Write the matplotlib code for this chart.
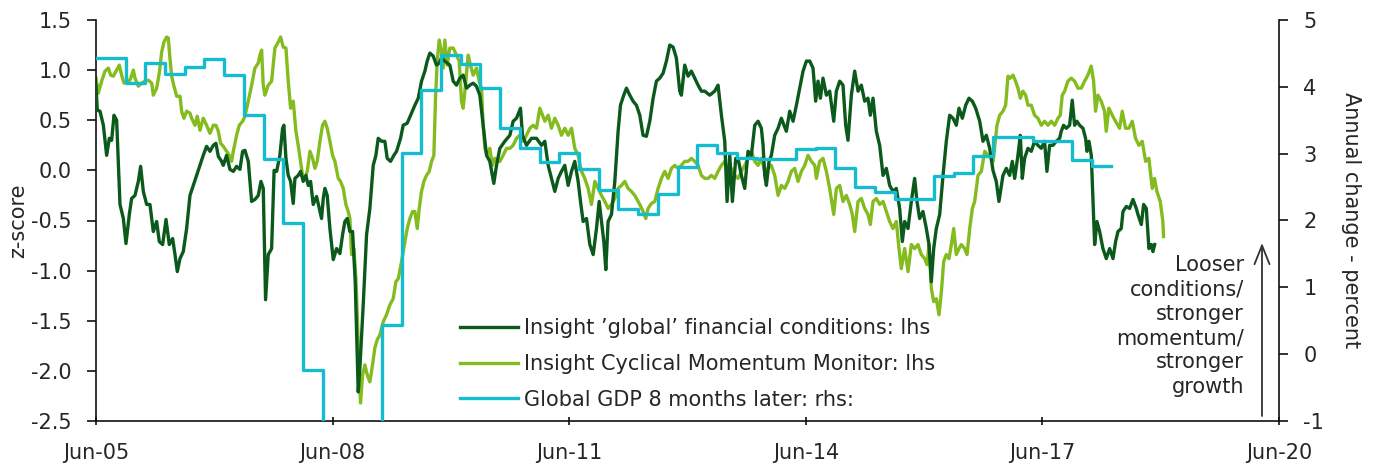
import matplotlib
matplotlib.use("Agg")
import matplotlib.pyplot as plt
from matplotlib.lines import Line2D

plt.rcParams['font.family'] = ['DejaVu Sans']
plt.rcParams['axes.unicode_minus'] = False

# ---- data (x = months since Jun-2005) ----
fci_month = [0, 0.2, 0.61, 1.12, 1.62, 2.03, 2.38, 2.74, 3.14, 3.65, 4.16, 4.56, 5.07, 5.42, 5.93, 6.44, 6.79, 7.2, 7.71, 8.21,
             8.72, 9.23, 9.63, 10.14, 10.65, 11.15, 11.66, 12.02, 12.37, 12.78, 13.28, 13.79, 14.3, 14.8, 15.31, 15.82, 16.32,
             16.83, 17.34, 17.85, 18.25, 18.61, 19.11, 19.37, 19.87, 20.38, 20.89, 21.39, 21.9, 22.31, 22.66, 23.17, 23.68,
             24.18, 24.69, 25.1, 25.45, 25.8, 26.21, 26.72, 27.1, 27.48, 27.98, 28.39, 28.59, 28.9, 29.25, 29.61, 30.01, 30.27,
             30.77, 31.13, 31.53, 31.94, 32.29, 32.65, 33.05, 33.56, 33.97, 34.32, 34.58, 34.83, 35.18, 35.59, 36.1, 36.6,
             37.11, 37.52, 37.87, 38.23, 38.63, 39.04, 39.44, 39.9, 40.15, 40.66, 41.17, 41.67, 42.18, 42.59, 42.94, 43.45,
             43.95, 44.31, 44.82, 45.32, 45.73, 46.34, 46.74, 47.35, 48.01, 48.52, 49.03, 49.53, 50.04, 50.39, 50.8, 51.31,
             51.81, 52.22, 52.57, 53.08, 53.84, 54.35, 54.85, 55.36, 55.87, 56.38, 56.88, 57.39, 57.89, 58.4, 58.91, 59.42,
             59.92, 60.53, 60.94, 61.45, 62.2, 62.97, 63.47, 63.98, 64.59, 64.89, 65.5, 66.26, 67.02, 67.78, 68.29, 68.8,
             69.3, 69.81, 70.32, 70.82, 71.33, 71.84, 72.35, 72.85, 73.36, 73.72, 74.12, 74.63, 75.14, 75.65, 76.15, 76.56,
             76.91, 77.27, 77.57, 77.92, 78.43, 78.94, 79.44, 79.8, 80.3, 80.71, 81.22, 81.72, 82.23, 82.74, 83.24, 83.75,
             84.26, 84.77, 85.27, 85.78, 86.29, 86.79, 87.3, 87.81, 88.31, 88.82, 89.07, 89.58, 90.09, 90.59, 91.1, 91.61,
             92.11, 92.62, 93.38, 94.14, 94.65, 95.16, 95.67, 96.02, 96.43, 96.83, 97.34, 97.69, 98.2, 98.71, 99.21, 99.72,
             100.23, 100.74, 101.24, 101.5, 101.75, 102.0, 102.41, 102.76, 103.27, 103.78, 104.28, 105.04, 105.55, 106.06,
             106.57, 107.07, 107.58, 108.09, 108.6, 109.1, 109.5, 109.86, 110.22, 110.62, 111.13, 111.63, 112.25, 112.65,
             113.16, 113.66, 114.07, 114.42, 114.93, 115.44, 115.95, 116.45, 116.96, 117.46, 117.82, 118.23, 118.73, 119.24,
             119.75, 120.25, 120.76, 121.27, 121.77, 122.28, 122.69, 123.04, 123.55, 124.06, 124.56, 124.92, 125.32, 125.83,
             126.34, 126.75, 127.1, 127.46, 127.86, 128.37, 128.88, 129.38, 129.89, 130.4, 130.9, 131.31, 131.82, 132.33,
             132.83, 133.34, 133.85, 134.46, 134.96, 135.47, 135.98, 136.48, 136.98, 137.39, 138.0, 138.51, 139.01, 139.42,
             139.78, 140.28, 140.64, 140.94, 141.29, 141.8, 142.31, 142.81, 143.32, 143.83, 144.33, 144.69, 145.1, 145.6,
             146.11, 146.62, 146.87, 147.22, 147.63, 148.14, 148.54, 148.9, 149.25, 149.66, 150.17, 150.57, 150.78, 151.08,
             151.44, 151.69, 151.95, 152.3, 152.71, 153.21, 153.72, 154.23, 154.74, 155.14, 155.5, 156.0, 156.26, 156.77,
             157.27, 157.78, 158.29, 158.54, 159.05, 159.4, 159.81, 160.21, 160.57, 160.82, 161.08]
fci_value = [0.85, 0.60, 0.59, 0.45, 0.15, 0.32, 0.30, 0.55, 0.50, -0.34, -0.48, -0.73, -0.44, -0.28, -0.25, -0.11, 0.04, -0.21,
             -0.34, -0.34, -0.61, -0.51, -0.71, -0.74, -0.49, -0.74, -0.68, -0.84, -1.01, -0.88, -0.81, -0.58, -0.25, -0.15,
             -0.05, 0.05, 0.15, 0.24, 0.19, 0.25, 0.27, 0.14, 0.09, 0.05, 0.15, 0.01, -0.01, 0.04, 0.01, 0.19, 0.20, 0.09,
             -0.31, -0.29, -0.25, -0.11, -0.18, -1.29, -0.84, -0.78, 0.0, -0.01, 0.15, 0.42, 0.45, 0.12, -0.05, -0.11, -0.33,
             -0.08, -0.05, -0.01, -0.11, -0.05, -0.15, -0.11, -0.34, -0.26, -0.38, -0.48, -0.28, -0.18, -0.25, -0.58, -0.89,
             -0.78, -0.83, -0.64, -0.51, -0.48, -0.61, -0.61, -1.11, -2.21, -1.97, -1.34, -0.64, -0.38, 0.05, 0.15, 0.32,
             0.29, 0.29, 0.12, 0.09, 0.15, 0.19, 0.32, 0.45, 0.47, 0.57, 0.65, 0.72, 0.89, 0.99, 1.09, 1.17, 1.14, 1.05, 1.07,
             1.12, 1.09, 1.05, 0.89, 0.85, 0.92, 0.95, 0.82, 0.85, 0.87, 0.84, 0.75, 0.45, 0.15, 0.09, -0.13, 0.05, 0.22, 0.29,
             0.35, 0.49, 0.52, 0.62, 0.35, 0.25, 0.32, 0.32, 0.25, 0.29, 0.05, -0.08, -0.21, -0.08, -0.01, 0.05, -0.15, -0.01,
             0.09, -0.11, -0.31, -0.51, -0.48, -0.74, -0.84, -0.58, -0.31, -0.51, -0.71, -0.99, -0.51, -0.44, -0.11, 0.39,
             0.65, 0.75, 0.82, 0.75, 0.69, 0.65, 0.55, 0.35, 0.34, 0.49, 0.72, 0.89, 0.92, 0.97, 1.09, 1.25, 1.23, 1.12, 0.79,
             0.75, 1.05, 0.94, 0.99, 0.92, 0.85, 0.79, 0.79, 0.75, 0.79, 0.85, 0.55, 0.29, -0.31, 0.15, -0.31, 0.12, 0.12,
             -0.05, -0.18, 0.19, 0.15, 0.45, 0.49, 0.42, 0.25, -0.05, -0.15, 0.09, 0.15, 0.35, 0.42, 0.52, 0.39, 0.59, 0.49,
             0.65, 0.82, 0.99, 1.09, 1.09, 1.02, 0.69, 0.89, 0.72, 0.92, 0.75, 0.79, 0.49, 0.79, 0.89, 0.85, 0.45, 0.30, 0.75,
             0.99, 0.79, 0.85, 0.69, 0.72, 0.55, 0.72, 0.39, 0.25, -0.05, 0.02, -0.15, -0.21, -0.18, -0.38, -0.71, -0.51,
             -0.58, -0.31, -0.08, -0.31, -0.48, -0.41, -0.58, -0.74, -1.11, -0.78, -0.58, -0.44, -0.05, 0.29, 0.55, 0.52,
             0.45, 0.62, 0.52, 0.65, 0.72, 0.69, 0.62, 0.49, 0.29, 0.35, 0.22, 0.0, -0.11, -0.31, -0.05, 0.02, -0.05, 0.09,
             -0.08, 0.15, 0.35, -0.08, 0.12, 0.22, 0.19, 0.29, 0.25, 0.22, 0.29, -0.01, 0.25, 0.25, 0.29, 0.32, 0.39, 0.45,
             0.42, 0.45, 0.70, 0.45, 0.49, 0.45, 0.42, 0.32, 0.19, 0.29, 0.15, -0.28, -0.74, -0.51, -0.61, -0.78, -0.88,
             -0.78, -0.88, -0.71, -0.61, -0.58, -0.41, -0.36, -0.38, -0.29, -0.38, -0.44, -0.54, -0.34, -0.38, -0.78, -0.74,
             -0.81, -0.74]

cmm_month = [0, 0.35, 0.86, 1.37, 1.88, 2.23, 2.64, 3.14, 3.55, 3.9, 4.26, 4.77, 5.17, 5.68, 5.93, 6.44, 6.95, 7.45, 7.96, 8.47,
             8.72, 9.23, 9.63, 9.99, 10.34, 10.75, 11.0, 11.25, 11.51, 11.86, 12.27, 12.78, 13.03, 13.38, 13.79, 14.3, 14.55,
             15.06, 15.41, 15.82, 16.32, 16.83, 17.34, 17.85, 18.25, 18.61, 18.96, 19.37, 19.87, 20.28, 20.63, 20.89, 21.14,
             21.39, 21.8, 22.31, 22.66, 23.17, 23.68, 24.18, 24.69, 24.94, 25.2, 25.45, 25.7, 26.21, 26.72, 27.22, 27.73,
             28.09, 28.49, 28.9, 29.25, 29.61, 30.01, 30.42, 30.77, 31.13, 31.43, 31.79, 32.14, 32.55, 32.95, 33.31, 33.66,
             34.07, 34.47, 34.83, 35.18, 35.59, 35.99, 36.35, 36.86, 37.21, 37.62, 38.02, 38.38, 38.63, 38.89, 39.24, 39.55,
             39.75, 40.05, 40.25, 40.56, 40.91, 41.27, 41.67, 42.08, 42.43, 42.79, 43.2, 43.7, 44.21, 44.72, 45.22, 45.63,
             45.99, 46.49, 47.0, 47.36, 47.76, 48.17, 48.52, 48.88, 49.18, 49.53, 49.89, 50.29, 50.7, 51.06, 51.41, 51.66,
             51.92, 52.22, 52.57, 52.83, 53.08, 53.43, 53.84, 54.35, 54.85, 55.26, 55.61, 55.87, 56.27, 56.63, 56.98, 57.39,
             57.89, 58.3, 58.66, 58.91, 59.17, 59.52, 59.92, 60.33, 60.68, 61.04, 61.45, 61.95, 62.46, 62.97, 63.47, 63.98,
             64.49, 65.0, 65.5, 66.01, 66.52, 67.02, 67.53, 67.93, 68.29, 68.8, 69.3, 69.81, 70.32, 70.82, 71.33, 71.84,
             72.35, 72.85, 73.36, 73.87, 74.37, 74.88, 75.39, 75.9, 76.4, 76.91, 77.42, 77.92, 78.43, 78.94, 79.44, 79.95,
             80.46, 80.96, 81.47, 81.98, 82.74, 83.24, 83.65, 84.0, 84.51, 85.02, 85.53, 86.03, 86.54, 87.05, 87.55, 88.06,
             88.57, 89.07, 89.58, 90.09, 90.59, 91.1, 91.61, 92.11, 92.62, 93.13, 93.63, 94.14, 94.65, 95.16, 95.67, 96.17,
             96.68, 97.19, 97.69, 98.2, 98.71, 99.21, 99.72, 100.23, 100.74, 101.24, 101.75, 102.26, 102.76, 103.27, 103.78,
             104.28, 104.79, 105.3, 105.8, 106.31, 106.82, 107.33, 107.83, 108.34, 108.85, 109.36, 109.61, 110.11, 110.62,
             111.13, 111.63, 112.25, 112.65, 113.16, 113.66, 114.17, 114.68, 115.08, 115.44, 115.95, 116.45, 116.96, 117.46,
             117.82, 118.23, 118.73, 119.24, 119.75, 120.25, 120.76, 121.27, 121.77, 122.18, 122.53, 123.04, 123.55, 124.06,
             124.56, 125.07, 125.58, 126.08, 126.44, 126.75, 127.1, 127.46, 127.86, 128.27, 128.63, 128.98, 129.38, 129.79,
             130.15, 130.5, 130.9, 131.31, 131.67, 132.17, 132.53, 132.94, 133.34, 133.7, 134.2, 134.71, 135.22, 135.72,
             136.23, 136.5, 137.09, 137.5, 138.0, 138.41, 138.76, 139.11, 139.52, 139.92, 140.28, 140.64, 141.04, 141.45,
             141.8, 142.31, 142.81, 143.32, 143.83, 144.33, 144.84, 145.35, 145.86, 146.36, 146.72, 147.02, 147.38, 147.88,
             148.39, 148.9, 149.4, 149.91, 150.42, 150.92, 151.43, 151.79, 152.09, 152.45, 152.95, 153.46, 153.71, 154.12,
             154.63, 155.13, 155.74, 156.15, 156.65, 157.16, 157.67, 158.17, 158.68, 159.19, 159.7, 160.2, 160.71, 161.06,
             161.42, 161.93, 162.33, 162.43]
cmm_value = [0.92, 0.77, 0.89, 0.99, 1.02, 0.95, 0.94, 1.00, 1.05, 0.95, 0.87, 0.89, 0.90, 1.00, 0.92, 0.84, 0.87, 0.89, 0.90,
             0.87, 0.75, 0.82, 0.97, 1.18, 1.28, 1.33, 1.32, 1.12, 0.94, 0.84, 0.74, 0.74, 0.59, 0.52, 0.59, 0.57, 0.52, 0.45,
             0.54, 0.40, 0.52, 0.45, 0.37, 0.45, 0.45, 0.39, 0.27, 0.24, 0.19, 0.15, 0.09, 0.19, 0.27, 0.35, 0.45, 0.49, 0.54,
             0.69, 0.85, 1.02, 1.07, 1.15, 1.20, 0.85, 0.75, 0.85, 0.89, 1.22, 1.28, 1.33, 1.23, 1.22, 0.89, 0.62, 0.69, 0.39,
             0.25, 0.09, -0.05, -0.08, -0.01, 0.19, 0.12, 0.02, 0.09, 0.29, 0.45, 0.49, 0.42, 0.29, 0.15, 0.09, -0.08, -0.11,
             -0.18, -0.34, -0.41, -0.48, -0.84, -0.78, -1.08, -1.44, -2.04, -2.32, -2.04, -1.94, -2.04, -2.11, -1.94, -1.77,
             -1.69, -1.64, -1.51, -1.44, -1.34, -1.28, -1.11, -1.08, -0.91, -0.71, -0.58, -0.48, -0.41, -0.41, -0.58, -0.38,
             -0.21, -0.11, -0.05, -0.01, 0.09, 0.15, 0.72, 1.09, 1.30, 1.18, 1.02, 1.30, 1.05, 1.22, 1.22, 1.15, 1.09, 0.69,
             0.62, 0.89, 1.15, 1.05, 0.95, 1.02, 0.89, 0.82, 0.45, 0.22, 0.15, 0.22, 0.05, 0.12, 0.09, 0.09, 0.15, 0.22, 0.22,
             0.25, 0.32, 0.35, 0.29, 0.35, 0.42, 0.45, 0.42, 0.62, 0.55, 0.49, 0.55, 0.42, 0.52, 0.45, 0.35, 0.42, 0.35, 0.42,
             0.22, 0.15, -0.01, -0.08, -0.18, -0.34, -0.11, -0.18, -0.25, -0.31, -0.38, -0.34, -0.28, -0.18, -0.15, -0.11,
             -0.18, -0.21, -0.25, -0.34, -0.41, -0.48, -0.38, -0.33, -0.31, -0.18, -0.08, -0.01, -0.08, 0.02, 0.05, 0.02, 0.05,
             0.09, 0.09, 0.12, 0.09, 0.05, -0.05, -0.08, -0.08, -0.05, -0.08, -0.01, 0.05, 0.09, -0.05, 0.02, -0.05, -0.08,
             -0.01, 0.05, 0.12, 0.19, 0.09, 0.05, 0.12, -0.01, 0.02, 0.05, -0.05, -0.25, -0.15, -0.18, -0.11, -0.01, 0.02,
             -0.11, -0.01, 0.05, 0.15, 0.09, 0.05, -0.08, 0.09, 0.12, -0.01, -0.18, -0.44, -0.18, -0.15, -0.31, -0.25, -0.34,
             -0.44, -0.61, -0.31, -0.28, -0.38, -0.44, -0.54, -0.31, -0.28, -0.34, -0.31, -0.41, -0.51, -0.58, -0.51, -0.78,
             -0.98, -0.78, -1.01, -0.74, -0.78, -0.74, -0.84, -0.88, -0.94, -0.74, -1.18, -1.31, -1.28, -1.44, -1.21, -0.91,
             -0.84, -0.88, -0.74, -0.58, -0.84, -0.78, -0.74, -0.78, -0.84, -0.58, -0.38, -0.31, -0.05, -0.01, 0.19, 0.15,
             0.12, 0.09, 0.45, 0.55, 0.59, 0.65, 0.94, 0.92, 0.95, 0.89, 0.82, 0.72, 0.79, 0.75, 0.65, 0.65, 0.55, 0.52, 0.45,
             0.49, 0.45, 0.49, 0.45, 0.52, 0.55, 0.75, 0.79, 0.89, 0.92, 0.89, 0.82, 0.82, 0.89, 0.95, 1.04, 0.89, 0.59, 0.75,
             0.69, 0.59, 0.39, 0.62, 0.55, 0.49, 0.42, 0.59, 0.42, 0.42, 0.49, 0.32, 0.25, 0.29, 0.09, 0.12, -0.18, -0.08,
             -0.21, -0.31, -0.51, -0.66]

gdp_month = [0, 4.5, 7.5, 10.5, 13.5, 16.5, 19.5, 22.5, 25.5, 28.5, 31.5, 34.5, 37.5, 40.5, 43.5, 46.5, 49.5, 52.5, 55.5,
             58.5, 61.5, 64.5, 67.5, 70.5, 73.5, 76.5, 79.5, 82.5, 85.5, 88.5, 91.5, 94.5, 97.5, 100.5, 103.5, 106.5, 109.5,
             112.5, 115.5, 118.5, 121.5, 124.5, 127.5, 130.5, 133.5, 136.5, 139.5, 142.5, 145.5, 148.5, 151.5, 154.5]
gdp_value = [4.43, 4.05, 4.35, 4.19, 4.29, 4.41, 4.17, 3.58, 2.92, 1.96, -0.23, -1.6, -2.2, -1.6, 0.44, 3.01, 3.95, 4.47, 4.34,
             3.99, 3.38, 3.08, 2.88, 3.01, 2.77, 2.45, 2.17, 2.10, 2.40, 2.80, 3.13, 3.01, 2.93, 2.92, 2.92, 3.07, 3.09, 2.79,
             2.50, 2.42, 2.32, 2.32, 2.67, 2.71, 2.97, 3.25, 3.25, 3.19, 3.19, 2.91, 2.82, 2.82]

x_ticks = [0, 36, 72, 108, 144, 180]
x_ticklabels = ['Jun-05', 'Jun-08', 'Jun-11', 'Jun-14', 'Jun-17', 'Jun-20']
left_ticks = [-2.5, -2.0, -1.5, -1.0, -0.5, 0.0, 0.5, 1.0, 1.5]
right_ticks = [-1, 0, 1, 2, 3, 4, 5]

labels = ["Insight \u2019global\u2019 financial conditions: lhs",
          "Insight Cyclical Momentum Monitor: lhs",
          "Global GDP 8 months later: rhs:"]

# ---- style ----
C_DARK = '#0b5a1c'
C_LIGHT = '#84bb1f'
C_CYAN = '#15bcd0'
TXT = '#262626'
FS = 15
LW = 2.4

fig = plt.figure(figsize=(13.74, 4.63), dpi=100)
W, H = 1374, 463
ax = fig.add_axes([96 / W, 1 - 421 / H, (1279 - 96) / W, (421 - 20) / H])
ax2 = ax.twinx()

ax.plot(fci_month, fci_value, color=C_DARK, lw=LW, solid_joinstyle='round', zorder=3)
ax.plot(cmm_month, cmm_value, color=C_LIGHT, lw=LW, solid_joinstyle='round', zorder=2)
ax2.step(gdp_month, gdp_value, where='post', color=C_CYAN, lw=LW, zorder=3)

ax.set_xlim(0, 180)
ax.set_ylim(-2.5, 1.5)
ax2.set_ylim(-1, 5)

ax.set_xticks(x_ticks)
ax.set_xticklabels(x_ticklabels)
ax.set_yticks(left_ticks)
ax.set_yticklabels([f"{v:.1f}" for v in left_ticks])
ax2.set_yticks(right_ticks)
ax2.set_yticklabels([str(v) for v in right_ticks])

for a in (ax, ax2):
    a.spines['top'].set_visible(False)
    for s in a.spines.values():
        s.set_linewidth(1.2)
        s.set_color('#111111')
ax.spines['right'].set_visible(False)
ax2.spines['left'].set_visible(False)
ax2.spines['bottom'].set_visible(False)

ax.tick_params(axis='y', direction='out', length=6.5, width=1.2, pad=11, labelsize=FS, labelcolor=TXT, color='#111111')
ax.tick_params(axis='x', direction='inout', length=6, width=1.2, pad=13, labelsize=FS, labelcolor=TXT, color='#111111')
ax2.tick_params(axis='y', direction='out', length=6.5, width=1.2, pad=11, labelsize=FS, labelcolor=TXT, color='#111111')

ax.set_ylabel('z-score', fontsize=FS, color=TXT)
ax.yaxis.set_label_coords(-68 / 1183, 0.5)
ax2.set_ylabel('Annual change - percent', fontsize=FS, color=TXT, rotation=270, va='bottom')
ax2.yaxis.set_label_coords(1 + 62 / 1183, 0.5)

handles = [Line2D([], [], color=C_DARK, lw=LW),
           Line2D([], [], color=C_LIGHT, lw=LW),
           Line2D([], [], color=C_CYAN, lw=LW)]
leg = ax2.legend(handles, labels, loc='upper left', bbox_to_anchor=((460 - 96) / 1183, (421 - 318) / 401),
                 frameon=False, fontsize=FS, handlelength=2.8, handletextpad=0.25, labelspacing=0.76,
                 borderpad=0, borderaxespad=0)
for t in leg.get_texts():
    t.set_color(TXT)

ax2.annotate('', xy=((1262 - 96) / 1183, (421 - 243) / 401), xytext=((1262 - 96) / 1183, (421 - 416) / 401),
             xycoords='axes fraction', textcoords='axes fraction',
             arrowprops=dict(arrowstyle='->,head_length=0.9,head_width=0.36', lw=1.3, color='#333333',
                             mutation_scale=15, shrinkA=0, shrinkB=0))
ax2.text((1244 - 96) / 1183, (421 - 326) / 401, 'Looser\nconditions/\nstronger\nmomentum/\nstronger\ngrowth',
         transform=ax2.transAxes, ha='right', va='center', multialignment='right', fontsize=FS, color=TXT,
         linespacing=1.27)

fig.savefig('out.png', dpi=100)
